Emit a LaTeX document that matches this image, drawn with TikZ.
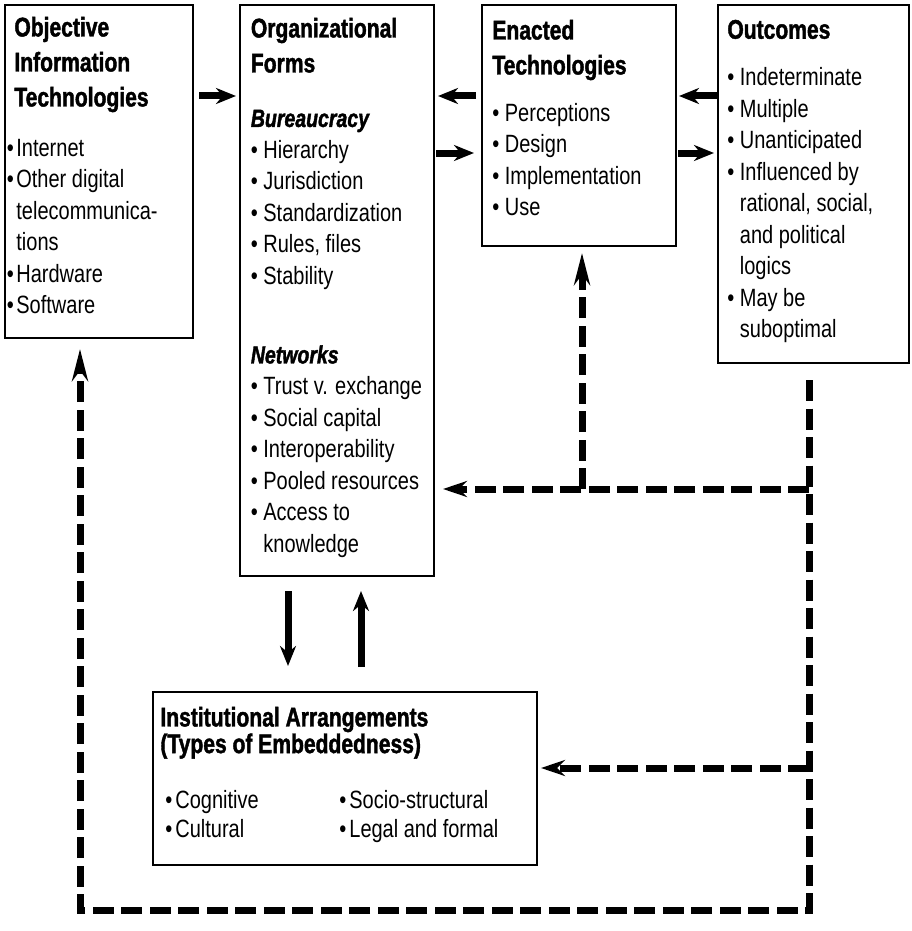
\documentclass[tikz,border=0pt]{standalone}
\usepackage{fontspec}
\setmainfont{Liberation Sans}[FakeStretch=0.8]
\newfontfamily\headfont{Liberation Sans}[FakeStretch=0.78, BoldFeatures={FakeBold=1.5}, BoldItalicFeatures={FakeBold=1.5}]
\usetikzlibrary{arrows.meta, fit, positioning}

\newcommand\itemsize{\fontsize{12.5}{15.75}\selectfont\parindent=0pt}
\newcommand\hd{\headfont\bfseries\fontsize{13.5}{17.5}\selectfont}
\newcommand\subhd{\headfont\bfseries\itshape}
\newcommand\itm{\par\noindent\makebox[6.25pt][l]{\textbullet}}
\newcommand\itc{\par\noindent\hspace*{6.25pt}}
\newcommand\itmo{\par\noindent\hspace*{1pt}\llap{\textbullet\hspace{1.2pt}}}

\begin{document}
\begin{tikzpicture}[
    x=0.5pt, y=-0.5pt,
    box/.style={draw, line width=1pt, inner sep=0pt},
    txt/.style={anchor=north west, inner sep=0pt, text width=#1, align=flush left, font=\itemsize},
    arr/.style={line width=3.5pt, -{Stealth[length=10pt, width=8pt]}},
    dasharr/.style={line width=3.5pt, dash pattern=on 10.5pt off 3.75pt, -{Stealth[length=#1, width=8pt]}},
    dasharr/.default=12pt
]
   \useasboundingbox (0,0) rectangle (911,931);

   % boxes
   \node[box, fit={(5,5) (193,338)}] (obj) {};
   \node[box, fit={(240,5) (434,576)}] (org) {};
   \node[box, fit={(482,5) (676,246)}] (enact) {};
   \node[box, fit={(718,5) (909,363)}] (outc) {};
   \node[box, fit={(153,692) (537,865)}] (inst) {};

   % texts
   \node[txt=88pt] (objtxt) [below right=6.25pt and 5pt of obj.north west] {%
     {\hd Objective\\Information\\Technologies\par}
     \vspace{9.25pt}
     \itmo Internet
     \itmo Other digital
     \par\hspace*{1pt}telecommunica-
     \par\hspace*{1pt}tions
     \itmo Hardware
     \itmo Software};
   \node[txt=100pt] (orgtxt) [below right=6.75pt and 5.75pt of org.north west] {%
     {\hd Organizational\\Forms\par}
     \vspace{11.5pt}
     \noindent{\subhd Bureaucracy}
     \itm Hierarchy
     \itm Jurisdiction
     \itm Standardization
     \itm Rules, files
     \itm Stability\par
     \vspace{23.75pt}
     \noindent{\subhd Networks}
     \itm Trust v. exchange
     \itm Social capital
     \itm Interoperability
     \itm Pooled resources
     \itm Access to
     \itc knowledge};
   \node[txt=95pt] (entxt) [below right=7.75pt and 5.5pt of enact.north west] {%
     {\hd Enacted\\Technologies\par}
     \vspace{7.75pt}
     \itm Perceptions
     \itm Design
     \itm Implementation
     \itm Use};
   \node[txt=95pt] (outtxt) [below right=7.75pt and 5pt of outc.north west] {%
     {\hd Outcomes\par}
     \vspace{7.75pt}
     \itm Indeterminate
     \itm Multiple
     \itm Unanticipated
     \itm Influenced by
     \itc rational, social,
     \itc and political
     \itc logics
     \itm May be
     \itc suboptimal};
   \node[txt=185pt] (insttxt) [below right=7.75pt and 4pt of inst.north west] {%
     {\hd\fontsize{13.5}{13.3}\selectfont Institutional Arrangements\\(Types of Embeddedness)\par}
     \baselineskip=14.5pt
     \vspace{13pt}
     \noindent\hspace*{2.5pt}\makebox[87pt][l]{\makebox[5pt][l]{\textbullet}Cognitive}\makebox[5pt][l]{\textbullet}Socio-structural\par
     \noindent\hspace*{2.5pt}\makebox[87pt][l]{\makebox[5pt][l]{\textbullet}Cultural}\makebox[5pt][l]{\textbullet}Legal and formal\par};

   % solid arrows
   \coordinate (upper) at (0,96);
   \coordinate (lower) at (0,153);
   \coordinate (dn) at (288,0);
   \coordinate (up) at (361,0);
   \draw[arr, shorten <=2.5pt, shorten >=1.5pt] (obj.east |- upper) -- (org.west |- upper);
   \draw[arr, shorten <=2.5pt, shorten >=1.5pt] (enact.west |- upper) -- (org.east |- upper);
   \draw[arr, shorten <=0.5pt, shorten >=3.5pt] (org.east |- lower) -- (enact.west |- lower);
   \draw[arr, shorten <=0pt, shorten >=1pt] (outc.west |- upper) -- (enact.east |- upper);
   \draw[arr, shorten <=0.5pt, shorten >=1.5pt] (enact.east |- lower) -- (outc.west |- lower);
   \draw[arr, shorten <=7pt, shorten >=12.5pt] (org.south -| dn) -- (inst.north -| dn);
   \draw[arr, shorten <=12pt, shorten >=7pt] (inst.north -| up) -- (org.south -| up);

   % dashed feedback lines
   \coordinate (fbR) at (809,910);
   \coordinate (fbL) at (80,910);
   \coordinate (fbE) at (582,489);
   \coordinate (fbI) at (809,768);
   \draw[dasharr=16pt, shorten <=8pt, shorten >=5pt] (outc.south -| fbR) -- (fbR) -- (fbL) -- (fbL |- obj.south);
   \draw[dasharr, shorten >=4pt] (fbR |- fbE) -- (org.east |- fbE);
   \draw[dasharr=16pt, shorten >=3pt] (fbE) -- (fbE |- enact.south);
   \draw[dasharr, shorten >=1.5pt] (fbI) -- (inst.east |- fbI);
\end{tikzpicture}
\end{document}
